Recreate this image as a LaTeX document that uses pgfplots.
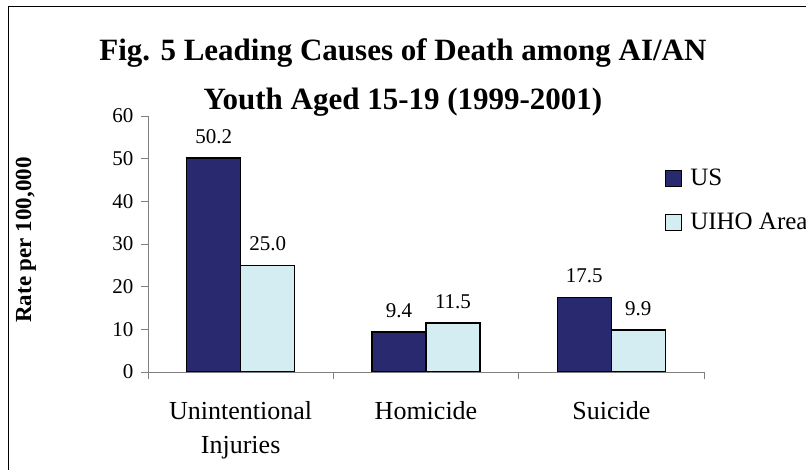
\documentclass[border=0pt]{standalone}
\usepackage{pgfplots}
\pgfplotsset{compat=1.18}
\usepackage{fontspec}
\setmainfont{Liberation Serif}
\definecolor{usnavy}{RGB}{41,41,112}
\definecolor{uihocyan}{RGB}{211,237,243}
\definecolor{axgray}{RGB}{128,128,128}

\begin{document}
\begin{tikzpicture}
\useasboundingbox (0,0) rectangle (806bp,470bp);
\draw[line width=1bp] (8bp,-10bp) -- (8bp,463bp) -- (820bp,463bp);
\begin{axis}[
  at={(148bp,98bp)}, anchor=south west,
  scale only axis, width=556bp, height=256bp,
  xmin=-0.5, xmax=2.5, ymin=0, ymax=60,
  axis x line=bottom, axis y line=left,
  axis line style={axgray, line width=1bp, -},
  /pgf/number format/assume math mode=true,
  ybar=0pt, bar width=54bp,
  ytick={0,10,...,60},
  xtick={-0.5,0.5,1.5,2.5},
  xticklabels={},
  extra x ticks={0,1,2},
  extra x tick labels={Unintentional\\Injuries, Homicide, Suicide},
  extra x tick style={major tick length=0pt, tick style={draw=none},
    xticklabel style={yshift=-26bp}},
  tick style={axgray, line width=1bp},
  major tick length=7bp, tick align=outside,
  xticklabel style={align=center, font=\fontsize{26bp}{34bp}\selectfont},
  yticklabel style={font=\fontsize{21bp}{21bp}\selectfont, xshift=-4bp},
  ylabel={Rate per 100,000},
  ylabel style={at={(axis description cs:-0.2194,0.5156)}, anchor=center,
    font=\bfseries\fontsize{23bp}{23bp}\selectfont},
  title={Fig. 5 Leading Causes of Death among AI/AN\\Youth Aged 15-19 (1999-2001)},
  title style={at={(axis description cs:0.4586,1.281)}, anchor=north, inner sep=0pt,
    align=center, font=\bfseries\fontsize{31bp}{49bp}\selectfont},
  nodes near coords={\pgfmathprintnumber[fixed,fixed zerofill,precision=1]{\pgfplotspointmeta}},
  nodes near coords style={font=\fontsize{21bp}{21bp}\selectfont, anchor=south, yshift=10bp, black},
  legend style={at={(axis description cs:0.93,0.80)}, anchor=north west,
    draw=none, fill=none, inner sep=0pt,
    font=\fontsize{25bp}{25bp}\selectfont, row sep=22bp,
    /tikz/every odd column/.append style={column sep=6bp}},
  legend cell align=left,
]
\addplot[fill=usnavy, draw=black, line width=1.5bp,
  legend image code/.code={\draw[fill=usnavy, draw=black, line width=1bp] (0bp,-8bp) rectangle (16bp,8bp);}]
  coordinates {(0,50.2) (1,9.4) (2,17.5)};
\addplot[fill=uihocyan, draw=black, line width=1.5bp,
  legend image code/.code={\draw[fill=uihocyan, draw=black, line width=1bp] (0bp,-8bp) rectangle (16bp,8bp);}]
  coordinates {(0,25.0) (1,11.5) (2,9.9)};
\legend{US, UIHO Area}
\end{axis}
\end{tikzpicture}
\end{document}
